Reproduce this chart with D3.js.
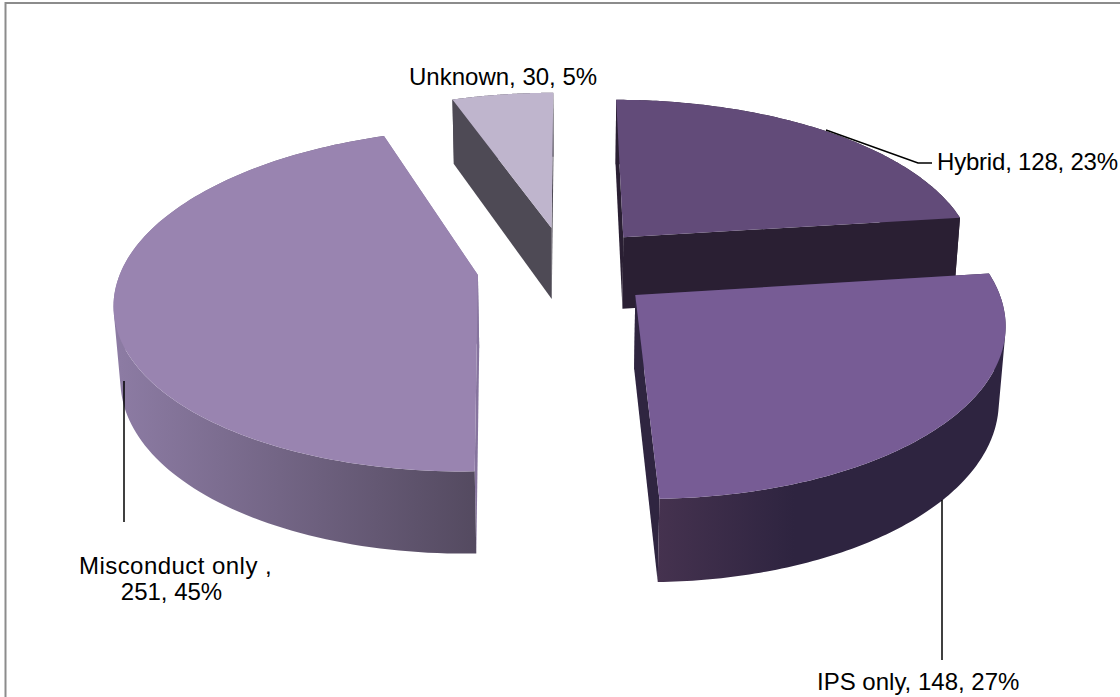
<!DOCTYPE html>
<html><head><meta charset="utf-8">
<script src="https://cdn.jsdelivr.net/npm/d3@7"></script>
<style>html,body{margin:0;padding:0;background:#fff}svg{display:block}text{font-family:"Liberation Sans",Arial,sans-serif;font-size:24px;fill:#000}</style>
</head><body><div id="c"></div>
<script>
const categories = ["Hybrid","IPS only","Misconduct only","Unknown"];
const values = [128,148,251,30];
const percents = [23,27,45,5];
const topColors = ["#624b79","#775c95","#9984b0","#bfb5cd"];
const wallLeft = ["#2a1f33","#45324f","#8c7ba3","#4e4a55"];
const wallRight = ["#2a1f33","#2e2440","#544a60","#4e4a55"];
const sideColors = ["#2a1f33","#2f2540","#86749e","#4e4a55"];
const paintOrder = [3,0,2,1];

const W=1120,H=697;
const svg=d3.select("#c").append("svg").attr("width",W).attr("height",H);
const defs=svg.append("defs");
svg.append("path").attr("d",`M5.5,${H} V3 H${W}`).attr("fill","none").attr("stroke","#8c8c8c").attr("stroke-width",2);

// perspective projection of a unit pie on its plane
const cx=566,cy=267.5,Ru=356,Rv=165.5,Rh=74,D=6.9,q=0.015,explode=0.25;
function proj(u,v,h){const w=1-v/D+h*q;return [cx+Ru*u/w,cy+(Rv*v+Rh*h)/w];}

const arcs=d3.pie().sort(null).startAngle(0).endAngle(2*Math.PI)(values);
const line=d3.line();
function pt(a,th,r,h){
  const mid=(a.startAngle+a.endAngle)/2;
  const u=explode*Math.sin(mid)+r*Math.sin(th);
  const v=-explode*Math.cos(mid)-r*Math.cos(th);
  return proj(u,v,h);
}
function signedArea(p){return d3.polygonArea(p);}
paintOrder.forEach(i=>{
  const a=arcs.find(d=>d.index===i);
  const ths=d3.range(0,121).map(k=>a.startAngle+(a.endAngle-a.startAngle)*k/120);
  const topArc=ths.map(t=>pt(a,t,1,0));
  const botArc=ths.map(t=>pt(a,t,1,1));
  const apex0=pt(a,0,0,0),apex1=pt(a,0,0,1);
  const g=svg.append("g");
  const xs=botArc.map(p=>p[0]);
  const gid="wall"+i;
  const grad=defs.append("linearGradient").attr("id",gid).attr("gradientUnits","userSpaceOnUse")
    .attr("x1",d3.min(xs)).attr("x2",d3.max(xs)).attr("y1",0).attr("y2",0);
  grad.append("stop").attr("offset",0).attr("stop-color",wallLeft[i]);
  if(i===1) grad.append("stop").attr("offset",0.4).attr("stop-color",wallRight[i]);
  grad.append("stop").attr("offset",1).attr("stop-color",wallRight[i]);
  // radial walls
  [[apex0,topArc[0],botArc[0],apex1],[apex0,topArc[120],botArc[120],apex1]].forEach(q4=>{
    g.append("path").attr("d",line(q4)+"Z").attr("fill",sideColors[i]);
  });
  // outer wall: swept strip of consistently wound quads, so the silhouette is tangent
  let d="";
  for(let k=0;k<120;k++){
    let quad=[topArc[k],topArc[k+1],botArc[k+1],botArc[k]];
    if(signedArea(quad)<0) quad=quad.slice().reverse();
    d+=line(quad)+"Z";
  }
  g.append("path").attr("d",d).attr("fill",`url(#${gid})`);
  // top face
  g.append("path").attr("d",line([apex0].concat(topArc))+"Z").attr("fill",topColors[i]);
});

// leader lines
const leaders=[[[826,130],[918,163],[932,163]],[[942,500],[942,660]],[[124,381],[124,522]]];
leaders.forEach(l=>svg.append("path").attr("d",line(l)).attr("fill","none").attr("stroke","#000").attr("stroke-width",1.5));

// labels
const lab=i=>`${categories[i]}, ${values[i]}, ${percents[i]}%`;
svg.append("text").attr("x",409).attr("y",85).text(lab(3));
svg.append("text").attr("x",937).attr("y",170).attr("letter-spacing",-0.2).text(lab(0));
svg.append("text").attr("x",817).attr("y",690).text(lab(1));
svg.append("text").attr("x",79).attr("y",574).attr("letter-spacing",0.45).text(categories[2]+" ,");
svg.append("text").attr("x",171.5).attr("y",600).attr("text-anchor","middle").text(`${values[2]}, ${percents[2]}%`);
</script></body></html>
